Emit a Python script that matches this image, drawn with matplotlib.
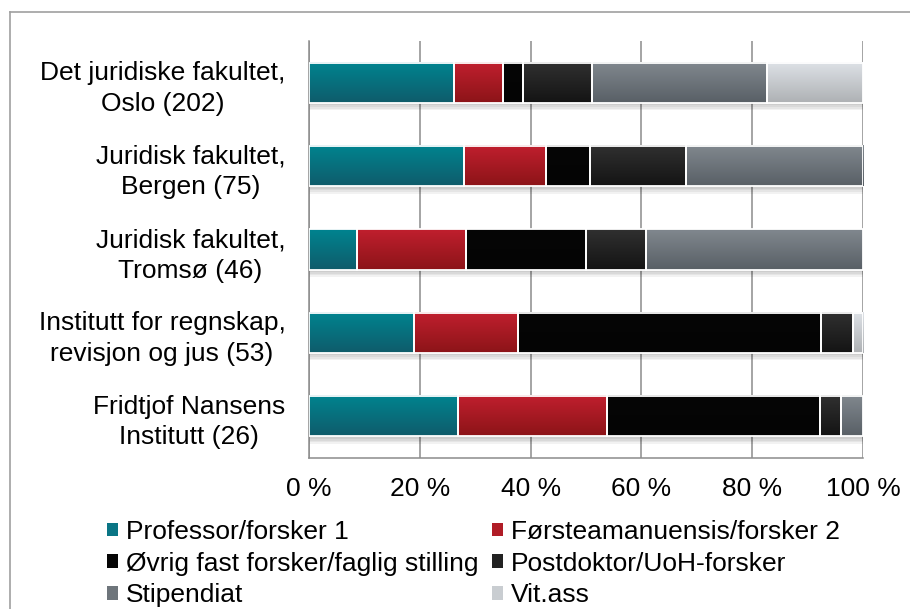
import numpy as np
import matplotlib
matplotlib.use('Agg')
import matplotlib.pyplot as plt
from matplotlib.colors import LinearSegmentedColormap
from matplotlib.patches import Patch
from matplotlib.lines import Line2D

categories = [
    'Det juridiske fakultet,\nOslo (202)',
    'Juridisk fakultet,\nBergen (75)',
    'Juridisk fakultet,\nTromsø (46)',
    'Institutt for regnskap,\nrevisjon og jus (53)',
    'Fridtjof Nansens\nInstitutt (26)',
]
series_names = [
    'Professor/forsker 1',
    'Førsteamanuensis/forsker 2',
    'Øvrig fast forsker/faglig stilling',
    'Postdoktor/UoH-forsker',
    'Stipendiat',
    'Vit.ass',
]

# percent of staff per category
professor = [26.2, 28.0, 8.7, 18.9, 26.9]
forsteam = [8.9, 14.7, 19.6, 18.9, 26.9]
ovrig = [3.5, 8.0, 21.7, 54.7, 38.5]
postdok = [12.4, 17.3, 10.9, 5.6, 3.8]
stipendiat = [31.7, 32.0, 39.1, 0.0, 3.9]
vitass = [17.3, 0.0, 0.0, 1.9, 0.0]
series_values = [professor, forsteam, ovrig, postdok, stipendiat, vitass]

xticks = [0, 20, 40, 60, 80, 100]
xtick_labels = ['0 %', '20 %', '40 %', '60 %', '80 %', '100 %']

# gradient colours (top -> bottom) and flat colours for the legend
top_colors = ['#00838f', '#c01f2e', '#060606', '#303030', '#80878e', '#dde1e6']
bottom_colors = ['#0f5c6b', '#8c1418', '#040404', '#141414', '#596066', '#aeb1b4']
legend_colors = ['#0a7585', '#b01c26', '#050505', '#222222', '#6e757b', '#c9cdd1']

plt.rcParams['font.family'] = ['Liberation Sans', 'DejaVu Sans']
plt.rcParams['font.size'] = 19

fig = plt.figure(figsize=(9.1, 6.09), dpi=100)
ax = fig.add_axes([0.3396, 0.2479, 0.6088, 0.6848])

y = np.arange(len(categories))
bar_h = 0.48

# soft drop shadow under each bar
totals = np.sum(series_values, axis=0)
for off in [0.03, 0.05, 0.07, 0.09]:
    ax.barh(y + off, totals, height=bar_h, color='black', alpha=0.05, lw=0, zorder=2)

left = np.zeros(len(categories))
for vals, ctop, cbot in zip(series_values, top_colors, bottom_colors):
    vals = np.array(vals)
    bars = ax.barh(y, vals, left=left, height=bar_h, facecolor='none',
                   edgecolor='white', linewidth=1.3, zorder=4)
    cmap = LinearSegmentedColormap.from_list('grad', [ctop, cbot])
    for rect, v in zip(bars, vals):
        if v <= 0:
            rect.set_visible(False)
            continue
        x0, y0 = rect.get_x(), rect.get_y()
        w, h = rect.get_width(), rect.get_height()
        ax.imshow(np.linspace(0, 1, 50).reshape(-1, 1), cmap=cmap, aspect='auto',
                  extent=[x0, x0 + w, y0 + h, y0], zorder=3, interpolation='bilinear')
    left += vals

ax.set_xlim(0, 100)
ax.set_ylim(len(categories) - 0.5, -0.5)

ax.set_xticks(xticks)
ax.set_xticklabels(xtick_labels)
ax.set_yticks(y)
ax.set_yticklabels(categories)
for t in ax.get_yticklabels():
    t.set_multialignment('center')
    t.set_linespacing(1.35)
ax.tick_params(axis='both', length=0)
ax.tick_params(axis='x', pad=14)
ax.tick_params(axis='y', pad=17)

ax.set_axisbelow(True)
ax.xaxis.grid(True, color='#8c8c8c', lw=1.1)
ax.yaxis.grid(False)
for s in ['top', 'right']:
    ax.spines[s].set_visible(False)
for s in ['left', 'bottom']:
    ax.spines[s].set_color('#8c8c8c')
    ax.spines[s].set_linewidth(1.1)

# legend, filled row by row like the original
handles = [Patch(facecolor=c, edgecolor='none') for c in legend_colors]
order = [0, 2, 4, 1, 3, 5]
fig.legend([handles[i] for i in order], [series_names[i] for i in order],
           ncol=2, loc='upper left', bbox_to_anchor=(107 / 910, 1 - 520 / 609),
           frameon=False, handlelength=0.42, handleheight=0.42, handletextpad=0.3,
           columnspacing=0.5, labelspacing=0.29, borderaxespad=0, borderpad=0)

# outer chart frame
fig.add_artist(Line2D([0.011, 0.011], [0, 0.981], transform=fig.transFigure,
                      color='#a0a0a0', lw=1.2))
fig.add_artist(Line2D([0.011, 1], [0.981, 0.981], transform=fig.transFigure,
                      color='#a0a0a0', lw=1.2))

fig.savefig('out.png', dpi=100)
